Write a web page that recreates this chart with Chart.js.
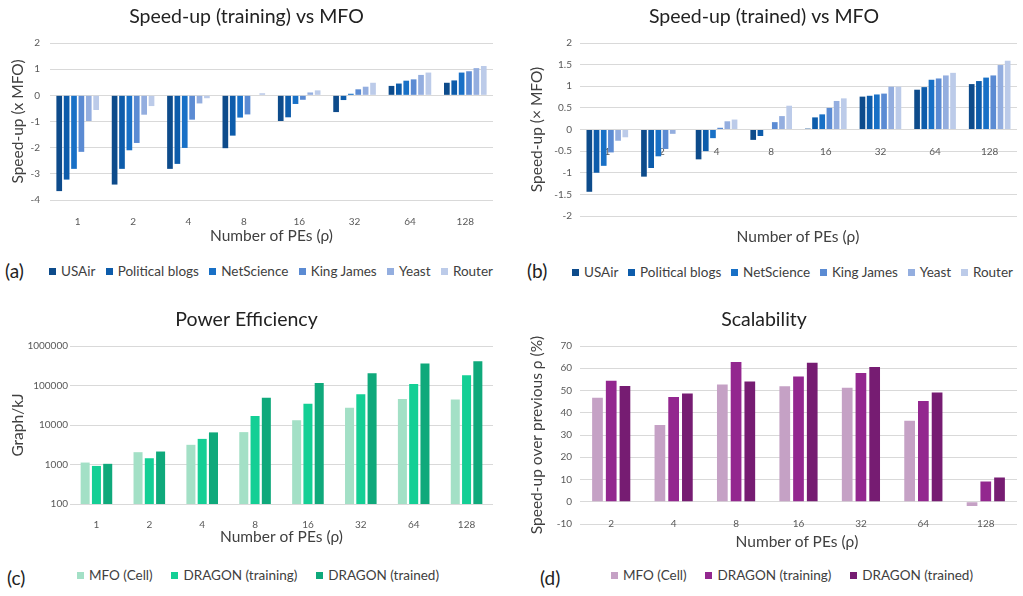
<!DOCTYPE html>
<html lang="en">
<head>
  <meta charset="UTF-8">
  <title>DRAGON speed-up</title>
  <script src="https://cdn.jsdelivr.net/npm/chart.js"></script>
  <style>
    body { margin: 0; width: 1023px; height: 596px; background: #fff; position: relative; overflow: hidden; font-family: Lato, sans-serif; }
    .box { position: absolute; }
    .panel { position: absolute; font-size: 19px; color: #222; line-height: 24px; }
    .legend { position: absolute; display: flex; justify-content: space-between; font-size: 13.5px; color: #404040; line-height: 16px; height: 16px; white-space: nowrap; }
    .legend span.sw { display: inline-block; width: 7px; height: 7px; margin-right: 5px; vertical-align: 1px; }
    .xtitle { position: absolute; font-size: 15.5px; color: #404040; line-height: 18px; transform: translateX(-50%); white-space: nowrap; }
  </style>
</head>
<body>
  <div class="box" style="left:0;top:0"><canvas id="chartA" width="511" height="250"></canvas></div>
  <div class="box" style="left:511px;top:0"><canvas id="chartB" width="512" height="230"></canvas></div>
  <div class="box" style="left:0;top:300px"><canvas id="chartC" width="511" height="250"></canvas></div>
  <div class="box" style="left:511px;top:300px"><canvas id="chartD" width="512" height="238"></canvas></div>

  <div class="xtitle" style="left:798px;top:227px">Number of PEs (ρ)</div>
  <div class="xtitle" style="left:797px;top:532px">Number of PEs (ρ)</div>

  <div class="panel" style="left:5px;top:259px">(a)</div>
  <div class="panel" style="left:527px;top:259px">(b)</div>
  <div class="panel" style="left:7px;top:566px">(c)</div>
  <div class="panel" style="left:540px;top:566px">(d)</div>

  <div class="legend" id="legendA" style="left:49px;top:263px;width:444px"></div>
  <div class="legend" id="legendB" style="left:572px;top:264px;width:441px"></div>
  <div class="legend" id="legendC" style="left:77px;top:567px;width:362px"></div>
  <div class="legend" id="legendD" style="left:611px;top:567px;width:362px"></div>

  <script>
    // x categories
    const peLabels = ['1', '2', '4', '8', '16', '32', '64', '128'];
    const scalLabels = ['2', '4', '8', '16', '32', '64', '128'];

    // (a) and (b): one row per graph, one column per PE count
    const graphNames = ['USAir', 'Political blogs', 'NetScience', 'King James', 'Yeast', 'Router'];
    const speedupTraining = [
      [-3.66, -3.41, -2.81, -2.02, -0.98, -0.64, 0.36, 0.48],
      [-3.22, -2.81, -2.62, -1.54, -0.84, -0.18, 0.45, 0.57],
      [-2.81, -2.10, -2.01, -0.85, -0.33, 0.06, 0.56, 0.87],
      [-2.16, -1.82, -0.93, -0.73, -0.17, 0.23, 0.61, 0.92],
      [-0.98, -0.74, -0.31, 0.02, 0.11, 0.33, 0.78, 1.04],
      [-0.56, -0.41, -0.11, 0.08, 0.19, 0.48, 0.87, 1.12]
    ];
    const speedupTrained = [
      [-1.44, -1.09, -0.69, -0.24, 0.02, 0.76, 0.92, 1.05],
      [-1.00, -0.89, -0.50, -0.15, 0.28, 0.78, 0.98, 1.12],
      [-0.84, -0.62, -0.20, 0, 0.35, 0.81, 1.15, 1.20],
      [-0.53, -0.45, 0.04, 0.17, 0.50, 0.83, 1.18, 1.25],
      [-0.26, -0.10, 0.19, 0.31, 0.66, 0.99, 1.25, 1.49],
      [-0.18, 0, 0.23, 0.55, 0.72, 0.99, 1.31, 1.59]
    ];
    const blues = ['#0d4b8b', '#0d5cab', '#1870c6', '#5b8bd3', '#94aedf', '#bccbe9'];

    // (c) power efficiency, Graph/kJ
    const methodNames = ['MFO (Cell)', 'DRAGON (training)', 'DRAGON (trained)'];
    const powerMfo = [1120, 2050, 3150, 6600, 13200, 27500, 45500, 44000];
    const powerTraining = [920, 1440, 4450, 16800, 34500, 60000, 109000, 181000];
    const powerTrained = [1040, 2130, 6500, 49000, 116000, 204000, 363000, 410000];
    const powerTicks = [100, 1000, 10000, 100000, 1000000];
    const greens = ['#a3e0c6', '#14cf95', '#0fa97b'];

    // (d) scalability, % speed-up over previous p
    const scalMfo = [46.7, 34.5, 52.7, 51.9, 51.2, 36.4, -1.9];
    const scalTraining = [54.4, 47.1, 62.8, 56.3, 57.9, 45.3, 9.1];
    const scalTrained = [52.0, 48.7, 54.1, 62.5, 60.6, 49.1, 10.9];
    const purples = ['#c5a1c5', '#93278f', '#761c72'];

    Chart.defaults.font.family = 'Lato, sans-serif';
    Chart.defaults.animation = false;

    const gridColor = '#d9d9d9';
    const tickFont = { size: 10 };
    const tickColor = '#595959';
    const axisTitleFont = { size: 15.5 };
    const axisTitleColor = '#404040';
    const plainNumber = v => String(v);

    function title(text, top, bottom) {
      return {
        display: true, text: text, color: '#222',
        font: { size: 19.5, weight: 'normal' },
        padding: { top: top, bottom: bottom }
      };
    }

    function yTitle(text, pad) {
      return { display: true, text: text, color: axisTitleColor, font: axisTitleFont, padding: { top: pad, bottom: 0 } };
    }

    function makeLegend(id, names, colors) {
      const el = document.getElementById(id);
      names.forEach((n, i) => {
        const item = document.createElement('div');
        item.innerHTML = '<span class="sw" style="background:' + colors[i] + '"></span>' + n;
        el.appendChild(item);
      });
    }

    function datasets(names, rows, colors, catPct, barPct) {
      return names.map((n, i) => ({
        label: n, data: rows[i], backgroundColor: colors[i],
        categoryPercentage: catPct, barPercentage: barPct, borderWidth: 0
      }));
    }

    // (a)
    new Chart(document.getElementById('chartA'), {
      type: 'bar',
      data: { labels: peLabels, datasets: datasets(graphNames, speedupTraining, blues, 0.8, 0.77) },
      options: {
        responsive: false,
        layout: { padding: { right: 18 } },
        plugins: { legend: { display: false }, tooltip: { enabled: false }, title: title('Speed-up (training) vs MFO', 5, 14.6) },
        scales: {
          x: {
            grid: { display: false }, border: { display: false },
            ticks: { padding: 8, color: tickColor, font: tickFont },
            title: { display: true, text: 'Number of PEs (ρ)', color: axisTitleColor, font: axisTitleFont, padding: { top: 0, bottom: 5 } },
            afterFit: s => { s.height = 50; }
          },
          y: {
            min: -4, max: 2,
            grid: { color: gridColor, drawTicks: false }, border: { display: false },
            ticks: { stepSize: 1, padding: 10, color: tickColor, font: tickFont, callback: plainNumber },
            title: yTitle('Speed-up (x MFO)', 9),
            afterFit: s => { s.width = 50; }
          }
        }
      }
    });

    // (b)
    new Chart(document.getElementById('chartB'), {
      type: 'bar',
      data: { labels: peLabels, datasets: datasets(graphNames, speedupTrained, blues, 0.79, 0.79) },
      options: {
        responsive: false,
        layout: { padding: { right: 6, bottom: 8 } },
        plugins: { legend: { display: false }, tooltip: { enabled: false }, title: title('Speed-up (trained) vs MFO', 5, 14.6) },
        scales: {
          x: {
            position: { y: 0 },
            grid: { display: false }, border: { display: false },
            ticks: { padding: 8, color: tickColor, font: tickFont }
          },
          y: {
            min: -2, max: 2,
            grid: { color: gridColor, drawTicks: false }, border: { display: false },
            ticks: { stepSize: 0.5, padding: 8, color: tickColor, font: tickFont, callback: plainNumber },
            title: yTitle('Speed-up (× MFO)', 17),
            afterFit: s => { s.width = 69; }
          }
        }
      }
    });

    // (c)
    new Chart(document.getElementById('chartC'), {
      type: 'bar',
      data: {
        labels: peLabels,
        datasets: datasets(methodNames, [powerMfo, powerTraining, powerTrained], greens, 0.64, 0.8)
      },
      options: {
        responsive: false,
        layout: { padding: { right: 18 } },
        plugins: { legend: { display: false }, tooltip: { enabled: false }, title: title('Power Efficiency', 8, 14.6) },
        scales: {
          x: {
            grid: { display: false }, border: { display: false },
            ticks: { padding: 7, color: tickColor, font: tickFont },
            title: { display: true, text: 'Number of PEs (ρ)', color: axisTitleColor, font: axisTitleFont, padding: { top: 0, bottom: 4 } },
            afterFit: s => { s.height = 46; }
          },
          y: {
            type: 'logarithmic', min: 100, max: 1000000,
            grid: { color: gridColor, drawTicks: false }, border: { display: false },
            afterBuildTicks: s => { s.ticks = powerTicks.map(v => ({ value: v })); },
            ticks: { padding: 2, color: tickColor, font: tickFont, callback: plainNumber },
            title: yTitle('Graph/kJ', 9),
            afterFit: s => { s.width = 70; }
          }
        }
      }
    });

    // (d)
    new Chart(document.getElementById('chartD'), {
      type: 'bar',
      data: {
        labels: scalLabels,
        datasets: datasets(methodNames, [scalMfo, scalTraining, scalTrained], purples, 0.66, 0.78)
      },
      options: {
        responsive: false,
        layout: { padding: { right: 6, bottom: 12 } },
        plugins: { legend: { display: false }, tooltip: { enabled: false }, title: title('Scalability', 8, 14.6) },
        scales: {
          x: {
            position: { y: 0 },
            grid: { display: false }, border: { display: false },
            ticks: { padding: 8, color: tickColor, font: tickFont }
          },
          y: {
            min: -10, max: 70,
            grid: { color: gridColor, drawTicks: false }, border: { display: false },
            ticks: { stepSize: 10, padding: 8, color: tickColor, font: tickFont },
            title: yTitle('Speed-up over previous ρ (%)', 17),
            afterFit: s => { s.width = 69; }
          }
        }
      }
    });

    makeLegend('legendA', graphNames, blues);
    makeLegend('legendB', graphNames, blues);
    makeLegend('legendC', methodNames, greens);
    makeLegend('legendD', methodNames, purples);
  </script>
</body>
</html>
